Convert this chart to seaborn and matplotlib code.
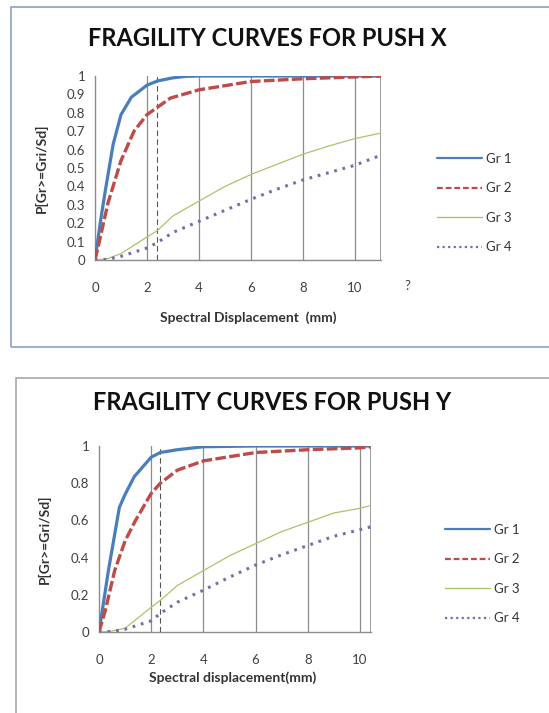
import matplotlib
matplotlib.use("Agg")
import matplotlib.pyplot as plt
import seaborn as sns
import numpy as np
import pandas as pd
from matplotlib.lines import Line2D
from matplotlib.patches import Rectangle

sns.set_style("white")
plt.rcParams['font.family'] = ['Lato', 'DejaVu Sans']

# ---------------- data ----------------
series_names = ["Gr 1", "Gr 2", "Gr 3", "Gr 4"]

# Push X
x_gr1_x = [0, 0.2, 0.4, 0.7, 1.0, 1.4, 2.0, 2.4, 3.0, 3.5, 4.0, 6.0, 8.0, 10.0, 11.0]
y_gr1_x = [0, 0.2, 0.38, 0.63, 0.79, 0.885, 0.95, 0.973, 0.99, 0.998, 1.0, 1.0, 1.0, 1.0, 1.0]
x_gr2_x = [0, 0.15, 0.5, 1.0, 1.5, 2.0, 2.4, 2.9, 4.0, 6.0, 8.0, 10.0, 11.0]
y_gr2_x = [0, 0.09, 0.31, 0.54, 0.70, 0.79, 0.83, 0.88, 0.925, 0.97, 0.985, 0.995, 1.0]
x_gr3_x = [0, 0.5, 1.0, 2.0, 2.4, 3.0, 4.0, 5.0, 6.0, 7.0, 8.0, 9.0, 10.0, 11.0]
y_gr3_x = [0, 0.008, 0.035, 0.125, 0.16, 0.24, 0.32, 0.40, 0.465, 0.52, 0.575, 0.62, 0.66, 0.69]
x_gr4_x = [0, 0.5, 1.0, 2.0, 2.4, 3.0, 4.0, 5.0, 6.0, 7.0, 8.0, 9.0, 10.0, 11.0]
y_gr4_x = [0, 0.004, 0.02, 0.065, 0.095, 0.15, 0.21, 0.27, 0.33, 0.385, 0.435, 0.475, 0.515, 0.57]

# Push Y
x_gr1_y = [0, 0.36, 0.78, 1.0, 1.35, 2.0, 2.35, 3.0, 4.0, 6.0, 8.0, 10.0, 10.4]
y_gr1_y = [0, 0.33, 0.67, 0.74, 0.835, 0.94, 0.965, 0.98, 0.996, 1.0, 1.0, 1.0, 1.0]
x_gr2_y = [0, 0.24, 0.6, 1.0, 1.4, 2.0, 2.35, 3.0, 4.0, 6.0, 8.0, 10.0, 10.4]
y_gr2_y = [0, 0.115, 0.33, 0.49, 0.60, 0.745, 0.80, 0.87, 0.92, 0.965, 0.98, 0.99, 0.995]
x_gr3_y = [0, 0.5, 1.0, 2.0, 2.35, 3.0, 4.0, 5.0, 6.0, 7.0, 8.0, 9.0, 10.0, 10.4]
y_gr3_y = [0, 0.005, 0.02, 0.133, 0.17, 0.25, 0.33, 0.41, 0.475, 0.54, 0.59, 0.64, 0.665, 0.68]
x_gr4_y = [0, 0.5, 1.0, 2.0, 2.35, 3.0, 4.0, 5.0, 6.0, 7.0, 8.0, 9.0, 10.0, 10.4]
y_gr4_y = [0, 0.003, 0.015, 0.06, 0.10, 0.16, 0.225, 0.295, 0.36, 0.415, 0.465, 0.515, 0.55, 0.565]

# threshold (dashed vertical) positions
sd_threshold_x = 2.38
sd_threshold_y = 2.35

# tick labels
xticks_top = [0, 2, 4, 6, 8, 10]
yticks_top = [0, 0.1, 0.2, 0.3, 0.4, 0.5, 0.6, 0.7, 0.8, 0.9, 1.0]
ytick_labels_top = ["0", "0.1", "0.2", "0.3", "0.4", "0.5", "0.6", "0.7", "0.8", "0.9", "1"]
xticks_bot = [0, 2, 4, 6, 8, 10]
yticks_bot = [0, 0.2, 0.4, 0.6, 0.8, 1.0]
ytick_labels_bot = ["0", "0.2", "0.4", "0.6", "0.8", "1"]

# ---------------- styles ----------------
colors = ["#4a7ebb", "#be4b48", "#a9c46c", "#7d6aa8"]
lws = [2.3, 2.4, 0.9, 2.2]
dash_styles = [None, (3.2, 1.0), None, (0.9, 1.9)]
leg_dashes = [None, (2.6, 1.3), None, (1.0, 1.5)]

W, H = 549, 713
fig = plt.figure(figsize=(W / 100, H / 100), dpi=100)

def fx(px):
    return px / W

def fy(py):
    return 1 - py / H

# frames
fig.patches.append(Rectangle((fx(11), fy(347)), fx(560 - 11), (347 - 7) / H,
                             transform=fig.transFigure, fill=False,
                             edgecolor="#8aa2bf", lw=1.2))
fig.patches.append(Rectangle((fx(16), fy(720)), fx(560 - 16), (720 - 378) / H,
                             transform=fig.transFigure, fill=False,
                             edgecolor="#a8a8a8", lw=1.2))

def make_df(xs, ys):
    return pd.DataFrame({"x": xs, "y": ys})

def draw_panel(ax, data, thresh, xmax, xticks, yticks, ylabels, xlabel, xlab_pad):
    for i, (xs, ys) in enumerate(data):
        df = make_df(xs, ys)
        sns.lineplot(data=df, x="x", y="y", color=colors[i], lw=lws[i], ax=ax,
                     sort=False, estimator=None, solid_capstyle="butt")
        ln = ax.lines[-1]
        if dash_styles[i] is not None:
            ln.set_dashes(dash_styles[i])
            ln.set_dash_capstyle("butt")
        ln.set_zorder(5 + i)
    ax.set_xlim(0, xmax)
    ax.set_ylim(0, 1)
    ax.set_xticks(xticks)
    ax.set_yticks(yticks)
    ax.set_yticklabels(ylabels)
    for xv in [2, 4, 6, 8, 10]:
        ax.axvline(xv, color="#8c8c8c", lw=0.9, zorder=1)
    ax.axvline(xmax, color="#8c8c8c", lw=1.2, zorder=1)
    ax.axvline(thresh, color="#555555", lw=0.8, ls=(0, (5, 3)), zorder=2)
    for s in ["top", "right"]:
        ax.spines[s].set_visible(False)
    for s in ["left", "bottom"]:
        ax.spines[s].set_color("#8c8c8c")
        ax.spines[s].set_linewidth(1.0)
    ax.tick_params(axis="both", which="major", direction="out", length=4,
                   width=0.9, color="#8c8c8c", labelsize=9.5, labelcolor="#404040")
    ax.tick_params(axis="x", pad=xlab_pad)
    ax.tick_params(axis="y", pad=3)
    ax.set_xlabel(xlabel, fontsize=10, fontweight="bold", color="#333333")
    ax.set_ylabel("P[Gr>=Gri/Sd]", fontsize=10, fontweight="bold", color="#333333")

def add_legend(x_px, yc_px):
    handles = []
    for i in range(4):
        h = Line2D([0], [0], color=colors[i], lw=1.6 if i != 2 else 1.0)
        if leg_dashes[i] is not None:
            h.set_dashes(leg_dashes[i])
        handles.append(h)
    leg = fig.legend(handles, series_names, loc="center left",
                     bbox_to_anchor=(fx(x_px), fy(yc_px)), frameon=False,
                     fontsize=9.5, handlelength=3.4, handletextpad=0.3,
                     labelspacing=1.32, borderpad=0, borderaxespad=0)
    for t in leg.get_texts():
        t.set_color("#333333")

# ---------------- top panel (Push X) ----------------
ax1 = fig.add_axes([fx(95), fy(260), fx(381 - 95), (260 - 76) / H])
draw_panel(ax1, [(x_gr1_x, y_gr1_x), (x_gr2_x, y_gr2_x), (x_gr3_x, y_gr3_x), (x_gr4_x, y_gr4_x)],
           sd_threshold_x, 11, xticks_top, yticks_top, ytick_labels_top,
           "Spectral Displacement  (mm)", 12)
ax1.xaxis.set_label_coords((248 - 95) / (381 - 95), -(311 - 260) / (260 - 76))
ax1.yaxis.set_label_coords(-(95 - 48) / (381 - 95), 0.5)
ax1.text(12, -(287 - 260 - 7) / (260 - 76), "?", transform=ax1.get_xaxis_transform(),
         ha="center", va="top", fontsize=9.5, color="#404040")
fig.text(fx(267), fy(38), "FRAGILITY CURVES FOR PUSH X", ha="center", va="center",
         fontsize=17, fontweight="bold", color="#111111")
add_legend(437, 203)

# ---------------- bottom panel (Push Y) ----------------
ax2 = fig.add_axes([fx(99), fy(632), fx(371 - 99), (632 - 446) / H])
draw_panel(ax2, [(x_gr1_y, y_gr1_y), (x_gr2_y, y_gr2_y), (x_gr3_y, y_gr3_y), (x_gr4_y, y_gr4_y)],
           sd_threshold_y, 10.42, xticks_bot, yticks_bot, ytick_labels_bot,
           "Spectral displacement(mm)", 12)
ax2.xaxis.set_label_coords((233 - 99) / (371 - 99), -(671 - 632) / (632 - 446))
ax2.yaxis.set_label_coords(-(99 - 51) / (371 - 99), 0.5)
fig.text(fx(272), fy(403), "FRAGILITY CURVES FOR PUSH Y", ha="center", va="center",
         fontsize=17, fontweight="bold", color="#111111")
add_legend(445, 574)

fig.savefig("out.png", dpi=100)
